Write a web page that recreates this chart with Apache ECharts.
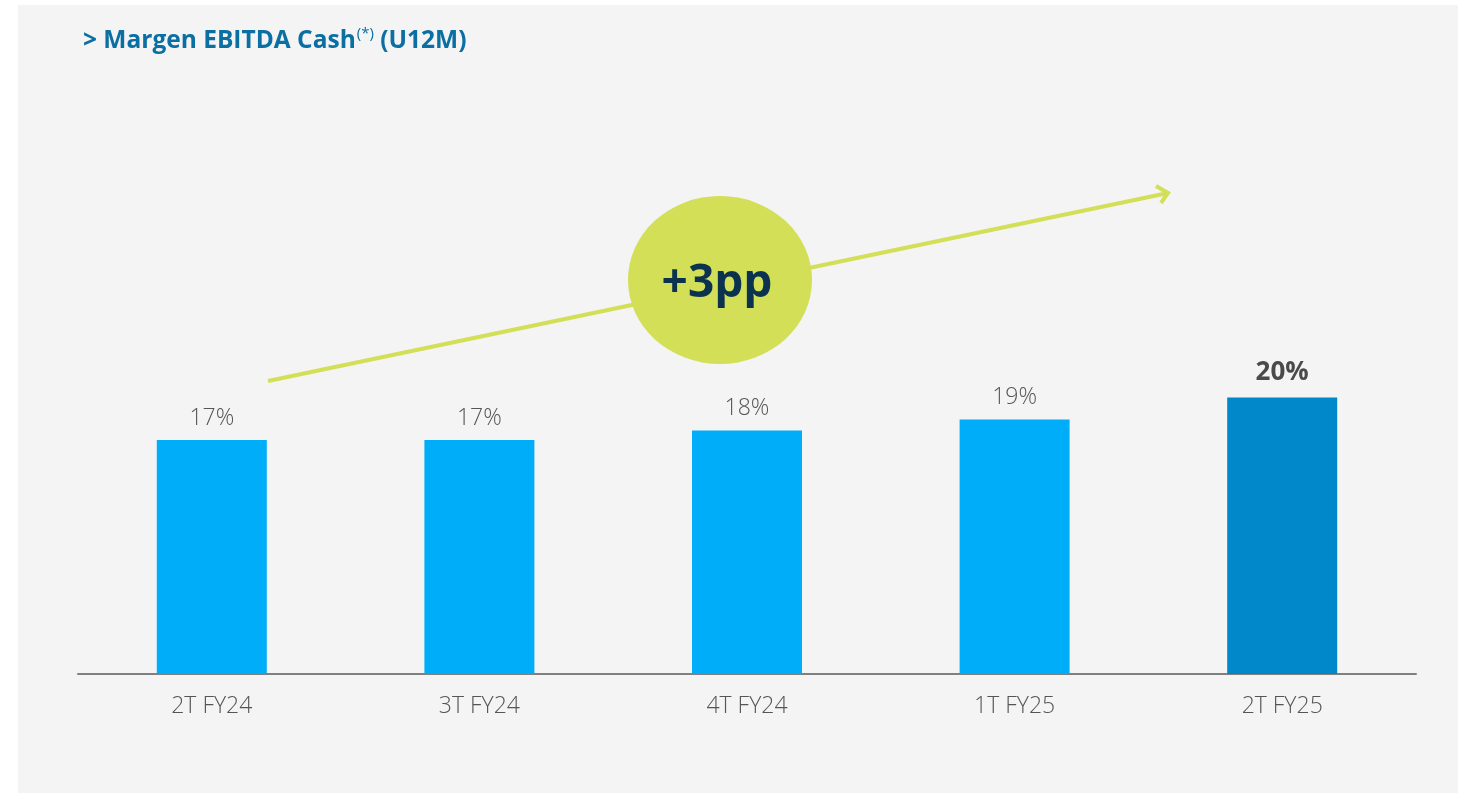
<!DOCTYPE html>
<html lang="es">
<head>
    <meta charset="UTF-8">
    <title>Margen EBITDA Cash</title>
    <script type="text/javascript" src="https://cdn.jsdelivr.net/npm/echarts@6/dist/echarts.min.js"></script>
    <style>
        html, body { margin: 0; padding: 0; background: #fff; }
        #chart { width: 1469px; height: 793px; }
    </style>
</head>
<body>
<div id="chart"></div>
<script>
    // datos
    var categories = ['2T FY24', '3T FY24', '4T FY24', '1T FY25', '2T FY25'];
    var margins = [17.0, 17.0, 17.7, 18.5, 20.1];
    var marginLabels = ['17%', '17%', '18%', '19%', '20%'];
    var growthText = '+3pp';

    var lightBlue = '#00adf8';
    var darkBlue = '#0088ca';
    var lime = '#d2df57';

    var myChart = echarts.init(document.getElementById('chart'));

    var barData = margins.map(function (v, i) {
        var last = i === margins.length - 1;
        return {
            value: v,
            itemStyle: { color: last ? darkBlue : lightBlue },
            label: last ? { fontSize: 26, fontWeight: 'bold', color: '#4a4a4a', distance: 12 } : {}
        };
    });

    var option = {
        backgroundColor: '#fff',
        textStyle: { fontFamily: 'Open Sans' },
        title: {
            text: '> Margen EBITDA Cash{sup|(*)} (U12M)',
            left: 78,
            top: 21,
            textStyle: {
                fontFamily: 'Open Sans',
                fontSize: 24.5,
                fontWeight: 'bold',
                color: '#0a6fa3',
                rich: {
                    sup: {
                        fontFamily: 'Open Sans',
                        fontSize: 15,
                        fontWeight: 'normal',
                        color: '#0a6fa3',
                        padding: [0, 0, 16, 1]
                    }
                }
            }
        },
        graphic: [
            {
                type: 'rect', z: -10, silent: true,
                shape: { x: 18, y: 5, width: 1440, height: 790 },
                style: { fill: '#f4f4f4' }
            },
            {
                type: 'line', z: 10, silent: true,
                shape: { x1: 268, y1: 381, x2: 1168, y2: 193 },
                style: { stroke: lime, lineWidth: 4 }
            },
            {
                type: 'polyline', z: 10, silent: true,
                shape: { points: [[1156, 186], [1168, 193], [1161, 203]] },
                style: { stroke: lime, lineWidth: 4, fill: null }
            },
            {
                type: 'circle', z: 11, silent: true,
                x: 720, y: 280, scaleY: 84 / 92,
                shape: { cx: 0, cy: 0, r: 92 },
                style: { fill: lime }
            },
            {
                type: 'text', z: 12, silent: true,
                x: 717, y: 284,
                style: {
                    text: growthText,
                    fontFamily: 'Open Sans',
                    fontSize: 46,
                    fontWeight: 'bold',
                    fill: '#0b3350',
                    align: 'center',
                    verticalAlign: 'middle'
                }
            }
        ],
        grid: {
            left: 78,
            right: 53,
            top: 330,
            bottom: 119
        },
        xAxis: {
            type: 'category',
            data: categories,
            axisTick: { show: false },
            axisLine: { lineStyle: { color: '#808080', width: 2 } },
            axisLabel: {
                color: '#555',
                fontSize: 23,
                fontWeight: 300,
                margin: 21
            }
        },
        yAxis: {
            type: 'value',
            min: 0,
            max: 25,
            show: false,
            splitLine: { show: false }
        },
        series: [
            {
                type: 'bar',
                barWidth: 110,
                data: barData,
                label: {
                    show: true,
                    position: 'top',
                    distance: 10,
                    fontSize: 23,
                    fontWeight: 300,
                    color: '#555',
                    formatter: function (p) {
                        return marginLabels[p.dataIndex];
                    }
                }
            }
        ]
    };

    myChart.setOption(option);
</script>
</body>
</html>
